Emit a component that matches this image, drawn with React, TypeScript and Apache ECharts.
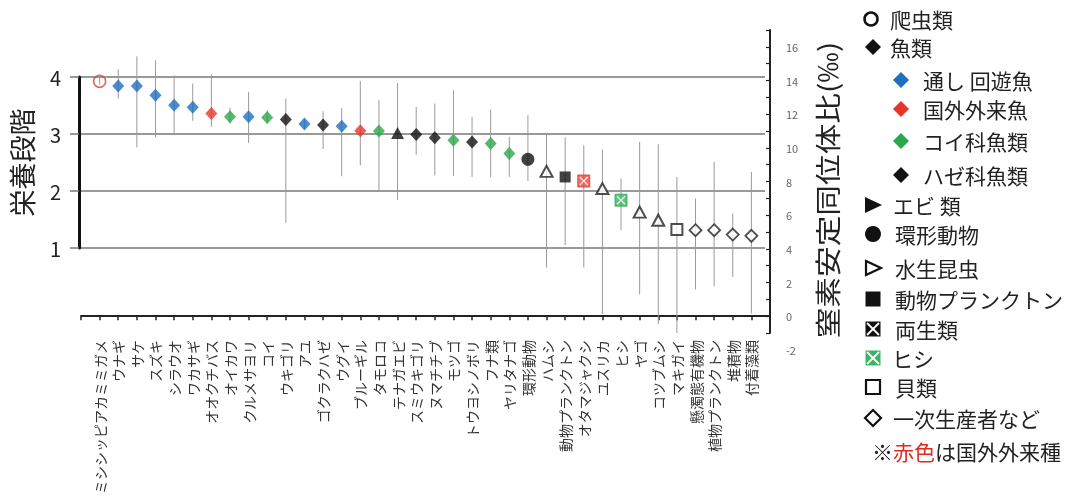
import React, { useEffect, useRef } from "react";
import * as echarts from "echarts";

// ---- data ----
const species = [
  "ミシシッピアカミミガメ", "ウナギ", "サケ", "スズキ", "シラウオ", "ワカサギ", "オオクチバス", "オイカワ",
  "クルメサヨリ", "コイ", "ウキゴリ", "アユ", "ゴクラクハゼ", "ウグイ", "ブルーギル", "タモロコ",
  "テナガエビ", "スミウキゴリ", "ヌマチチブ", "モツゴ", "トウヨシノボリ", "フナ類", "ヤリタナゴ", "環形動物",
  "ハムシ", "動物プランクトン", "オタマジャクシ", "ユスリカ", "ヒシ", "ヤゴ", "コツブムシ", "マキガイ",
  "懸濁態有機物", "植物プランクトン", "堆積物", "付着藻類",
];
const d15N = [
  13.95, 13.68, 13.68, 13.12, 12.53, 12.41, 12.04, 11.84, 11.84, 11.8, 11.68, 11.42,
  11.35, 11.28, 11.02, 11.0, 10.88, 10.79, 10.6, 10.45, 10.35, 10.26, 9.66, 9.32,
  8.6, 8.27, 8.03, 7.58, 6.89, 6.18, 5.7, 5.15, 5.11, 5.11, 4.85, 4.77,
];
const d15NLow = [
  13.75, 12.93, 10.02, 10.61, 10.75, 11.6, 11.24, 11.44, 10.29, 11.44, 5.54, 11.15,
  9.93, 8.31, 8.95, 7.48, 6.89, 9.59, 8.37, 8.33, 8.27, 8.24, 8.27, 8.03,
  2.89, 4.22, 2.89, 0.12, 5.11, 1.29, -0.48, -1.0, 1.59, 1.78, 2.33, 0.16,
];
const d15NHigh = [
  14.15, 14.67, 15.44, 15.2, 14.31, 13.82, 14.35, 12.39, 13.32, 12.23, 12.93, 11.7,
  12.18, 12.36, 13.97, 12.83, 13.85, 12.43, 12.63, 13.42, 11.84, 12.27, 10.65, 11.94,
  10.8, 10.61, 10.15, 9.9, 8.18, 10.35, 10.21, 8.27, 6.99, 9.16, 6.1, 8.57,
];
const groupOf = [
  "reptile", "diad", "diad", "diad", "diad", "diad", "alien", "cyp", "diad", "cyp", "goby", "diad",
  "goby", "diad", "alien", "cyp", "shrimp", "goby", "goby", "cyp", "goby", "cyp", "cyp", "annelid",
  "insect", "zoo", "amphibian", "insect", "hishi", "insect", "insect", "shell",
  "primary", "primary", "primary", "primary",
];
const groupNames: Record<string, string> = {
  reptile: "爬虫類", diad: "通し回遊魚", alien: "国外外来魚", cyp: "コイ科魚類", goby: "ハゼ科魚類",
  shrimp: "エビ類", annelid: "環形動物", insect: "水生昆虫", zoo: "動物プランクトン",
  amphibian: "両生類", hishi: "ヒシ", shell: "貝類", primary: "一次生産者など",
};
const legendLabels = [
  "爬虫類", "魚類", "通し 回遊魚", "国外外来魚", "コイ科魚類", "ハゼ科魚類", "エビ 類", "環形動物",
  "水生昆虫", "動物プランクトン", "両生類", "ヒシ", "貝類", "一次生産者など",
];
const leftAxisName = "栄養段階";
const rightAxisName = "窒素安定同位体比(‰)";

// ---- styles ----
const FONT = "'Noto Sans CJK JP', 'Noto Sans', sans-serif";
const BLUE = "#1f6fc0";
const RED = "#e8332a";
const GREEN = "#2aa84a";
const BLACK = "#111";
const symbolStyle: Record<string, any> = {
  reptile: { symbol: "circle", symbolSize: 12, itemStyle: { color: "rgba(255,255,255,0)", borderColor: "#d04a3e", borderWidth: 1.6 } },
  diad: { symbol: "diamond", symbolSize: [12, 13], itemStyle: { color: BLUE } },
  alien: { symbol: "diamond", symbolSize: [12, 13], itemStyle: { color: RED } },
  cyp: { symbol: "diamond", symbolSize: [12, 13], itemStyle: { color: GREEN } },
  goby: { symbol: "diamond", symbolSize: [12, 13], itemStyle: { color: BLACK } },
  shrimp: { symbol: "triangle", symbolSize: [13, 12], itemStyle: { color: BLACK } },
  annelid: { symbol: "circle", symbolSize: 13, itemStyle: { color: BLACK } },
  insect: { symbol: "triangle", symbolSize: [12, 11], itemStyle: { color: "#fff", borderColor: "#222", borderWidth: 2 } },
  zoo: { symbol: "rect", symbolSize: 11, itemStyle: { color: BLACK } },
  amphibian: { symbol: "rect", symbolSize: 12, itemStyle: { color: "#ec4a42", borderColor: "#e8332a", borderWidth: 1 } },
  hishi: { symbol: "rect", symbolSize: 12, itemStyle: { color: "#3cb464", borderColor: "#2aa84a", borderWidth: 1 } },
  shell: { symbol: "rect", symbolSize: 11, itemStyle: { color: "#fff", borderColor: "#222", borderWidth: 2 } },
  primary: { symbol: "diamond", symbolSize: [12, 12], itemStyle: { color: "#fff", borderColor: "#222", borderWidth: 1.8 } },
};

export default function App() {
  const ref = useRef<HTMLDivElement>(null);
  useEffect(() => {
    if (!ref.current) return;
    const chart = echarts.init(ref.current, null, { renderer: "svg" });
    const xCats = ["", ...species, " "];

    const groupKeys = Object.keys(groupNames);
    const scatterSeries: any[] = groupKeys.map((g) => ({
      type: "scatter",
      name: groupNames[g],
      xAxisIndex: 0,
      yAxisIndex: 0,
      z: 3,
      ...symbolStyle[g],
      data: species.map((s, i) => (groupOf[i] === g ? [s, d15N[i]] : null)).filter((d) => d),
    }));
    const crossSeries = {
      type: "scatter",
      name: "cross",
      xAxisIndex: 0,
      yAxisIndex: 0,
      z: 4,
      silent: true,
      symbol: "path://M0,0L10,10M10,0L0,10",
      symbolSize: 8,
      itemStyle: { color: "rgba(0,0,0,0)", borderColor: "#fff", borderWidth: 1.3 },
      data: species
        .map((s, i) => (groupOf[i] === "amphibian" || groupOf[i] === "hishi" ? [s, d15N[i]] : null))
        .filter((d) => d),
    };
    const errSeries = {
      type: "custom",
      name: "range",
      xAxisIndex: 0,
      yAxisIndex: 0,
      z: 1,
      silent: true,
      data: species.map((s, i) => [s, d15NLow[i], d15NHigh[i]]),
      encode: { x: 0, y: [1, 2] },
      renderItem: (_p: any, api: any) => {
        const lo = api.coord([api.value(0), api.value(1)]);
        const hi = api.coord([api.value(0), api.value(2)]);
        return {
          type: "line",
          shape: { x1: lo[0], y1: lo[1], x2: hi[0], y2: hi[1] },
          style: { stroke: "#9a9a9a", lineWidth: 1 },
        };
      },
    };

    // legend drawn with graphic
    const LX = 873;
    const rows = [19, 47, 80, 109, 141, 175, 205, 234, 268, 299, 329, 358, 387, 418, 451];
    const txt = (x: number, y: number, text: string) => ({
      type: "text",
      x,
      y,
      style: { text, fontSize: 21, fill: "#222", fontFamily: FONT, verticalAlign: "middle", textVerticalAlign: "middle" },
    });
    const diamond = (cx: number, cy: number, r: number, fill: string, stroke?: string) => ({
      type: "polygon",
      shape: { points: [[cx, cy - r], [cx + r, cy], [cx, cy + r], [cx - r, cy]] },
      style: stroke ? { fill, stroke, lineWidth: 2.2 } : { fill },
    });
    const crossBox = (cx: number, cy: number, fill: string) => [
      { type: "rect", shape: { x: cx - 7.5, y: cy - 7.5, width: 15, height: 15 }, style: { fill } },
      { type: "line", shape: { x1: cx - 6, y1: cy - 6, x2: cx + 6, y2: cy + 6 }, style: { stroke: "#fff", lineWidth: 1.8 } },
      { type: "line", shape: { x1: cx + 6, y1: cy - 6, x2: cx - 6, y2: cy + 6 }, style: { stroke: "#fff", lineWidth: 1.8 } },
    ];
    const graphics: any[] = [
      { type: "circle", shape: { cx: LX - 2, cy: rows[0], r: 6.5 }, style: { fill: "#fff", stroke: "#111", lineWidth: 2.5 } },
      txt(890, rows[0], legendLabels[0]),
      diamond(LX, rows[1], 8, BLACK),
      txt(890, rows[1], legendLabels[1]),
      diamond(901, rows[2], 8, BLUE),
      txt(923, rows[2], legendLabels[2]),
      diamond(901, rows[3], 8, RED),
      txt(923, rows[3], legendLabels[3]),
      diamond(901, rows[4], 8, GREEN),
      txt(923, rows[4], legendLabels[4]),
      diamond(901, rows[5], 8, BLACK),
      txt(923, rows[5], legendLabels[5]),
      { type: "polygon", shape: { points: [[LX - 8, rows[6] - 8], [LX + 9, rows[6]], [LX - 8, rows[6] + 8]] }, style: { fill: BLACK } },
      txt(893, rows[6], legendLabels[6]),
      { type: "circle", shape: { cx: LX, cy: rows[7], r: 8 }, style: { fill: BLACK } },
      txt(895, rows[7], legendLabels[7]),
      { type: "polygon", shape: { points: [[LX - 7, rows[8] - 7], [LX + 8, rows[8]], [LX - 7, rows[8] + 7]] }, style: { fill: "#fff", stroke: BLACK, lineWidth: 2.2 } },
      txt(895, rows[8], legendLabels[8]),
      { type: "rect", shape: { x: LX - 7.5, y: rows[9] - 7.5, width: 15, height: 15 }, style: { fill: BLACK } },
      txt(895, rows[9], legendLabels[9]),
      ...crossBox(LX, rows[10], BLACK),
      txt(895, rows[10], legendLabels[10]),
      ...crossBox(LX, rows[11], "#3cb464"),
      txt(892, rows[11], legendLabels[11]),
      { type: "rect", shape: { x: LX - 7, y: rows[12] - 7, width: 14, height: 14 }, style: { fill: "#fff", stroke: BLACK, lineWidth: 2.2 } },
      txt(895, rows[12], legendLabels[12]),
      diamond(LX, rows[13], 8, "#fff", BLACK),
      txt(893, rows[13], legendLabels[13]),
      {
        type: "text",
        x: 872,
        y: rows[14],
        style: {
          text: "{a|※}{r|赤色}{a|は国外外来種}",
          fontFamily: FONT,
          verticalAlign: "middle",
          textVerticalAlign: "middle",
          rich: {
            a: { fill: "#222", fontSize: 21, fontFamily: FONT },
            r: { fill: "#e02a20", fontSize: 21, fontFamily: FONT },
          },
        },
      },
      {
        type: "text",
        x: 827,
        y: 190,
        rotation: Math.PI / 2,
        scaleX: 1.18,
        style: {
          text: rightAxisName,
          fontSize: 26,
          fill: "#222",
          fontFamily: FONT,
          align: "center",
          textAlign: "center",
          verticalAlign: "middle",
          textVerticalAlign: "middle",
        },
      },
    ];

    chart.setOption({
      animation: false,
      textStyle: { fontFamily: FONT },
      grid: [
        { left: 81, right: 310, top: 30, bottom: 169 },
        { left: 81, right: 310, top: 30, bottom: 152 },
        { left: 77, right: 315, top: 77, bottom: 254 },
      ],
      xAxis: [
        {
          gridIndex: 0,
          type: "category",
          data: xCats,
          boundaryGap: false,
          axisLine: { lineStyle: { color: "#222", width: 2 } },
          axisTick: { show: true, interval: 0, length: 4, lineStyle: { color: "#222", width: 1.5 } },
          axisLabel: { interval: 0, rotate: 90, fontSize: 14, color: "#333", margin: 7, fontFamily: FONT },
          splitLine: { show: false },
        },
        { gridIndex: 1, type: "value", show: false },
        { gridIndex: 2, type: "value", show: false },
      ],
      yAxis: [
        {
          gridIndex: 0,
          type: "value",
          position: "right",
          min: -1,
          max: 17,
          interval: 1,
          axisLine: { show: true, lineStyle: { color: "#222", width: 2 } },
          axisTick: { show: true, inside: true, length: 4, lineStyle: { color: "#222", width: 1.2 } },
          axisLabel: { show: false },
          splitLine: { show: false },
        },
        {
          gridIndex: 1,
          type: "value",
          position: "right",
          min: -2,
          max: 17,
          interval: 2,
          axisLine: { show: false },
          axisTick: { show: false },
          axisLabel: {
            fontSize: 11,
            color: "#666",
            margin: 16,
            formatter: (v: number) => (v > 16 ? "" : String(v)),
          },
          splitLine: { show: false },
        },
        {
          gridIndex: 2,
          type: "value",
          position: "left",
          min: 1,
          max: 4,
          interval: 1,
          axisLine: { show: true, lineStyle: { color: "#111", width: 3 } },
          axisTick: { show: true, length: 9, lineStyle: { color: "#777", width: 1.5 } },
          axisLabel: { fontSize: 20, color: "#222", margin: 18 },
          splitLine: { show: true, lineStyle: { color: "#777", width: 1.5 } },
          name: leftAxisName,
          nameLocation: "middle",
          nameGap: 44,
          nameTextStyle: { fontSize: 27, color: "#222", fontFamily: FONT },
        },
      ],
      series: [errSeries, ...scatterSeries, crossSeries],
      graphic: graphics,
    });
    return () => chart.dispose();
  }, []);
  return <div ref={ref} style={{ position: "fixed", left: 0, top: 0, width: 1080, height: 502 }} />;
}
